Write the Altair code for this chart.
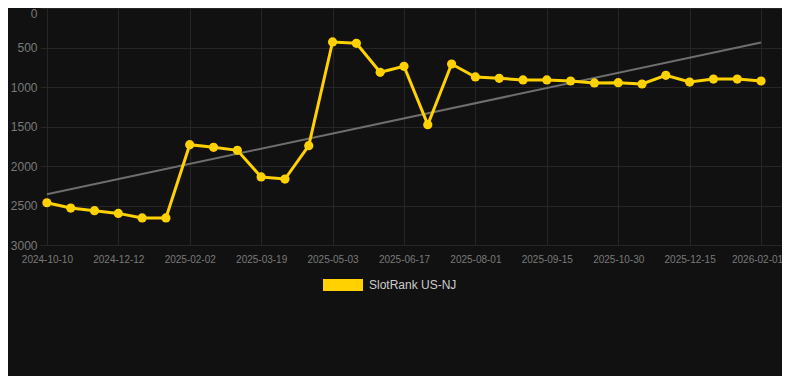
import altair as alt
import pandas as pd

dates = [
    "2024-10-10", "2024-10-31", "2024-11-21", "2024-12-12", "2024-12-29", "2025-01-15",
    "2025-02-02", "2025-02-17", "2025-03-04", "2025-03-19", "2025-04-03", "2025-04-18",
    "2025-05-03", "2025-05-18", "2025-06-02", "2025-06-17", "2025-07-02", "2025-07-17",
    "2025-08-01", "2025-08-16", "2025-08-31", "2025-09-15", "2025-09-30", "2025-10-15",
    "2025-10-30", "2025-11-14", "2025-11-29", "2025-12-15", "2025-12-31", "2026-01-16",
    "2026-02-01",
]
ranks = [
    2465, 2532, 2565, 2600, 2658, 2658,
    1730, 1764, 1802, 2139, 2165, 1743,
    430, 447, 814, 738, 1477, 709,
    873, 890, 911, 911, 924, 949,
    945, 962, 852, 937, 899, 899,
    924,
]
series_name = "SlotRank US-NJ"
tick_labels = dates[::3]
y_ticks = [0, 500, 1000, 1500, 2000, 2500, 3000]

df = pd.DataFrame({"idx": list(range(len(dates))), "date": dates, "rank": ranks,
                   "series": [series_name] * len(dates)})

label_array = "[" + ",".join("'%s'" % d for d in tick_labels) + "]"

x_enc = alt.X("idx:Q",
              scale=alt.Scale(domain=[-0.29, 30.88], nice=False, zero=False),
              axis=alt.Axis(values=list(range(0, 31, 3)), labelExpr=label_array + "[datum.value/3]",
                            title=None, grid=True, gridColor="#262626", domain=False,
                            ticks=False, labelPadding=9, labelFontSize=10,
                            labelColor="#7a7a7a", labelFont="Liberation Sans",
                            labelOffset={"condition": {"test": "datum.value == 30", "value": -4},
                                         "value": 0}))
y_enc = alt.Y("rank:Q",
              scale=alt.Scale(domain=[0, 3000], reverse=True, nice=False),
              axis=alt.Axis(values=y_ticks, title=None, format="d",
                            grid=True, gridColor="#262626", domain=False, ticks=False,
                            labelPadding=3, labelFontSize=12, labelColor="#7a7a7a",
                            labelFont="Liberation Sans",
                            labelBaseline={"condition": {"test": "datum.value == 0", "value": "top"},
                                           "value": "middle"}))

base = alt.Chart(df)

trend = base.transform_regression("idx", "rank").mark_line(
    color="#6e6e6e", strokeWidth=2).encode(x=x_enc, y=y_enc)

line = base.mark_line(color="#FFD100", strokeWidth=3).encode(x=x_enc, y=y_enc)

points = base.mark_circle(size=85, opacity=1).encode(
    x=x_enc, y=y_enc,
    color=alt.Color("series:N", scale=alt.Scale(range=["#FFD100"]),
                    legend=alt.Legend(title=None, orient="none", legendX=283, legendY=257,
                                      symbolType="M-1,-0.3L1,-0.3L1,0.3L-1,0.3Z",
                                      symbolSize=1600, symbolStrokeWidth=0,
                                      labelFontSize=12, labelColor="#cccccc",
                                      labelFont="Liberation Sans", labelOffset=6,
                                      padding=0)))

chart = alt.layer(trend, line, points).properties(
    width=742, height=237,
    background="#111111",
    padding={"left": 32, "top": 0, "right": 0, "bottom": 131},
    autosize=alt.AutoSizeParams(type="none"),
).configure_view(stroke=None)

chart.save("out.html", embed_options={"renderer": "svg", "actions": False})
